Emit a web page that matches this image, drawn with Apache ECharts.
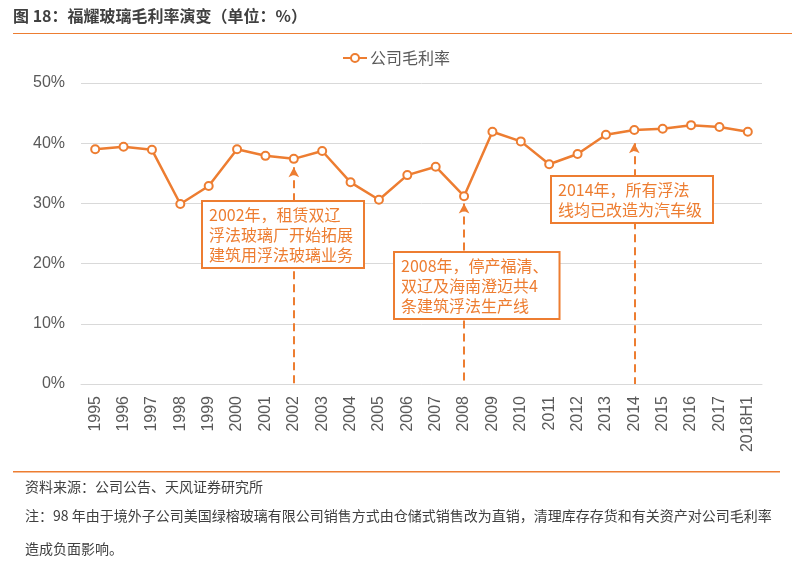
<!DOCTYPE html>
<html>
<head>
<meta charset="utf-8">
<script src="https://cdn.jsdelivr.net/npm/echarts@6/dist/echarts.min.js"></script>
<style>
  html, body { margin: 0; padding: 0; background: #fff; }
  #chart { width: 792px; height: 565px; }
</style>
</head>
<body>
<div id="chart"></div>
<script>
/* Veriler */
const years = ['1995', '1996', '1997', '1998', '1999', '2000', '2001', '2002', '2003', '2004', '2005', '2006',
  '2007', '2008', '2009', '2010', '2011', '2012', '2013', '2014', '2015', '2016', '2017', '2018H1'];
const grossMargin = [39.0, 39.4, 38.9, 29.9, 32.9, 39.0, 37.9, 37.4, 38.7, 33.5, 30.6, 34.7,
  36.1, 31.2, 41.9, 40.3, 36.5, 38.2, 41.4, 42.2, 42.4, 43.0, 42.7, 41.9];
const yTicks = [0, 10, 20, 30, 40, 50];

/* Açıklama okları: yıl ve okun başladığı değer */
const noteYears = ['2002', '2008', '2014'];
const noteArrowTop = [36.0, 30.0, 40.0];
const noteTexts = [
  '2002年，租赁双辽\n浮法玻璃厂开始拓展\n建筑用浮法玻璃业务',
  '2008年，停产福清、\n双辽及海南澄迈共4\n条建筑浮法生产线',
  '2014年，所有浮法\n线均已改造为汽车级'
];

const ORANGE = '#ED7D31';
const GREY = '#595959';
const FONT = '"Noto Sans CJK SC", "Noto Sans", sans-serif';
const NUM_FONT = '"Liberation Sans", Arial, sans-serif';

const chart = echarts.init(document.getElementById('chart'), null, { renderer: 'canvas' });

const boxPos = [[203, 202], [395, 253], [552, 177]];
const noteGraphics = noteTexts.map((t, i) => ({
  type: 'text',
  z: 100,
  x: boxPos[i][0],
  y: boxPos[i][1],
  style: {
    text: t,
    fill: ORANGE,
    font: '16px ' + FONT,
    lineHeight: 20,
    backgroundColor: '#fff',
    borderColor: ORANGE,
    borderWidth: 2,
    padding: [3, 10, 2, 6]
  }
}));

chart.setOption({
  animation: false,
  textStyle: { fontFamily: FONT },
  grid: { left: 81, right: 30, top: 83, bottom: 181 },
  legend: {
    top: 45,
    left: 'center',
    itemWidth: 24,
    itemHeight: 10,
    itemGap: 4,
    textStyle: { color: GREY, fontSize: 16, padding: [0, 0, 0, -2] },
    data: ['公司毛利率']
  },
  xAxis: {
    type: 'category',
    data: years,
    axisLine: { lineStyle: { color: '#d9d9d9', width: 1 } },
    axisTick: { show: false },
    axisLabel: { rotate: 90, color: GREY, fontSize: 16, fontFamily: NUM_FONT, margin: 12 }
  },
  yAxis: {
    type: 'value',
    min: yTicks[0],
    max: yTicks[yTicks.length - 1],
    interval: 10,
    axisLine: { show: false },
    axisTick: { show: false },
    axisLabel: { formatter: '{value}%', color: GREY, fontSize: 16, fontFamily: NUM_FONT, margin: 16 },
    splitLine: { lineStyle: { color: '#d9d9d9', width: 1 } }
  },
  series: [{
    name: '公司毛利率',
    type: 'line',
    data: grossMargin,
    symbol: 'circle',
    symbolSize: 8,
    lineStyle: { color: ORANGE, width: 2.5 },
    itemStyle: { color: '#fff', borderColor: ORANGE, borderWidth: 2 },
    markLine: {
      silent: true,
      symbol: ['arrow', 'none'],
      symbolSize: [8, 10],
      label: { show: false },
      lineStyle: { color: ORANGE, width: 2, type: [8, 5] },
      data: noteYears.map((y, i) => [
        { coord: [y, noteArrowTop[i]] },
        { coord: [y, 0] }
      ])
    }
  }],
  graphic: [
    { type: 'text', x: 13, y: 8, style: { text: '图 18：福耀玻璃毛利率演变（单位：%）', fill: '#404040', font: 'bold 16px ' + FONT } },
    { type: 'rect', shape: { x: 13, y: 33, width: 779, height: 1 }, style: { fill: ORANGE } },
    { type: 'rect', shape: { x: 13, y: 471, width: 767, height: 1.5 }, style: { fill: ORANGE } },
    { type: 'text', x: 25, y: 480, style: { text: '资料来源：公司公告、天风证券研究所', fill: '#404040', font: '14px ' + FONT } },
    { type: 'text', x: 25, y: 509, style: { text: '注：98 年由于境外子公司美国绿榕玻璃有限公司销售方式由仓储式销售改为直销，清理库存存货和有关资产对公司毛利率', fill: '#404040', font: '14px ' + FONT } },
    { type: 'text', x: 25, y: 542, style: { text: '造成负面影响。', fill: '#404040', font: '14px ' + FONT } }
  ].concat(noteGraphics)
});
</script>
</body>
</html>
